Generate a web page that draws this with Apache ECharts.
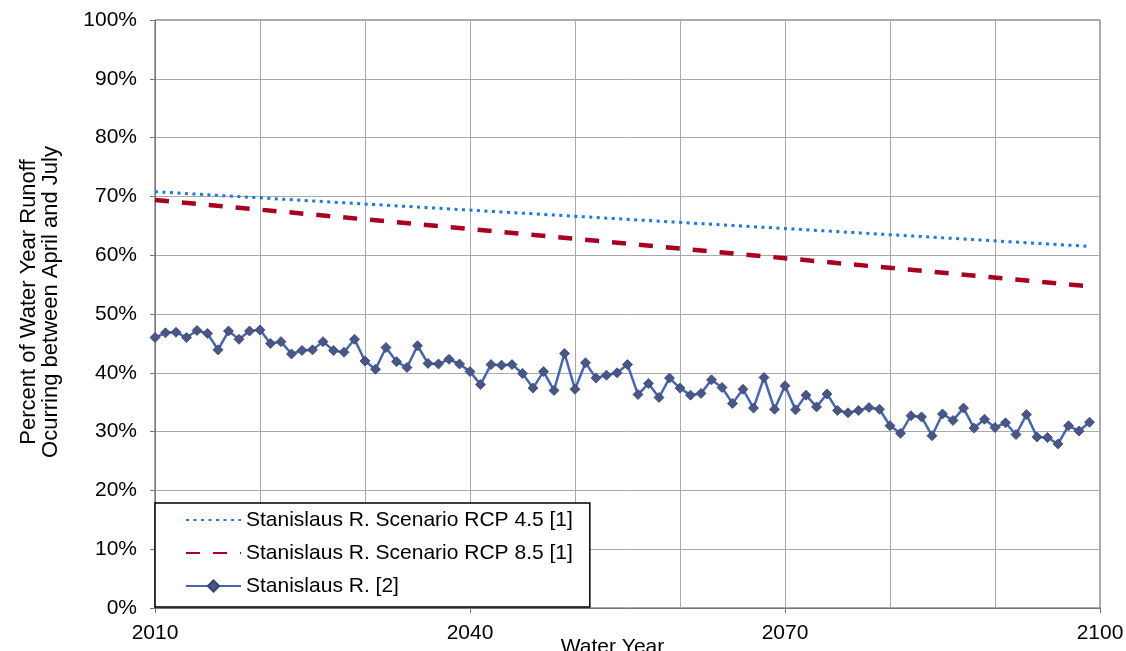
<!DOCTYPE html>
<html>
<head>
<meta charset="utf-8">
<script src="https://cdn.jsdelivr.net/npm/echarts@6/dist/echarts.min.js"></script>
<style>html,body{margin:0;padding:0;background:#fff;}#c{width:1126px;height:651px;}</style>
</head>
<body>
<div id="c"></div>
<script>
var years = [2010,2011,2012,2013,2014,2015,2016,2017,2018,2019,
  2020,2021,2022,2023,2024,2025,2026,2027,2028,2029,
  2030,2031,2032,2033,2034,2035,2036,2037,2038,2039,
  2040,2041,2042,2043,2044,2045,2046,2047,2048,2049,
  2050,2051,2052,2053,2054,2055,2056,2057,2058,2059,
  2060,2061,2062,2063,2064,2065,2066,2067,2068,2069,
  2070,2071,2072,2073,2074,2075,2076,2077,2078,2079,
  2080,2081,2082,2083,2084,2085,2086,2087,2088,2089,
  2090,2091,2092,2093,2094,2095,2096,2097,2098,2099];
var stanislaus = [46.0,46.8,46.9,46.0,47.2,46.7,43.9,47.1,45.7,47.1,
  47.3,45.0,45.3,43.2,43.8,43.9,45.3,43.8,43.5,45.7,
  42.0,40.6,44.3,41.9,40.9,44.6,41.6,41.5,42.3,41.5,
  40.2,38.0,41.4,41.3,41.4,39.9,37.4,40.2,37.0,43.3,
  37.2,41.7,39.1,39.6,40.0,41.4,36.3,38.2,35.8,39.1,
  37.4,36.2,36.5,38.8,37.5,34.8,37.2,34.0,39.2,33.8,
  37.8,33.7,36.2,34.2,36.4,33.6,33.2,33.6,34.1,33.8,
  31.0,29.7,32.7,32.5,29.3,33.0,31.9,34.0,30.6,32.1,
  30.7,31.5,29.5,32.9,29.1,29.0,27.9,31.0,30.1,31.6];
var rcp45Years = [2010, 2099];
var rcp45 = [70.8, 61.5];
var rcp85Years = [2010, 2099];
var rcp85 = [69.4, 54.7];
var seriesNames = ['Stanislaus R. Scenario RCP 4.5 [1]', 'Stanislaus R. Scenario RCP 8.5 [1]', 'Stanislaus R. [2]'];

function pairs(xs, ys) { return xs.map(function (x, i) { return [x, ys[i]]; }); }

var FONT = "'Liberation Sans', Arial, sans-serif";
var chart = echarts.init(document.getElementById('c'));
chart.setOption({
  animation: false,
  backgroundColor: '#fff',
  textStyle: { fontFamily: FONT },
  grid: { left: 155, right: 26, top: 20, bottom: 43, containLabel: false, outerBoundsMode: 'none',
    show: true, borderColor: '#555', borderWidth: 1, backgroundColor: 'transparent' },
  legend: {
    orient: 'vertical', left: 155, top: 503,
    backgroundColor: '#fff', borderColor: '#000', borderWidth: 1.5, borderRadius: 0,
    padding: [5, 17, 9, 30],
    itemWidth: 55, itemHeight: 14, itemGap: 9,
    textStyle: { fontSize: 21, color: '#000', fontFamily: FONT, lineHeight: 24 },
    data: [
      { name: seriesNames[0], itemStyle: { opacity: 0 } },
      { name: seriesNames[1], itemStyle: { opacity: 0 } },
      { name: seriesNames[2] }
    ]
  },
  xAxis: {
    type: 'value', min: 2010, max: 2100, interval: 30,
    name: 'Water Year', nameLocation: 'middle', nameGap: 29, nameMoveOverlap: false,
    nameTextStyle: { fontSize: 21, color: '#000', fontFamily: FONT, padding: [0, 30, 0, 0] },
    axisLine: { show: true, lineStyle: { color: '#777', width: 1 } },
    axisTick: { show: true, length: 5, lineStyle: { color: '#777' } },
    axisLabel: { fontSize: 21, color: '#000', margin: 15, fontFamily: FONT,
      formatter: function (v) { return String(v); } },
    splitLine: { show: true, lineStyle: { color: '#aaa', width: 1 } },
    minorTick: { show: false, splitNumber: 3 },
    minorSplitLine: { show: true, lineStyle: { color: '#aaa', width: 1 } }
  },
  yAxis: {
    type: 'value', min: 0, max: 100, interval: 10,
    name: 'Percent of Water Year Runoff\nOcurring between April and July',
    nameLocation: 'middle', nameGap: 93, nameMoveOverlap: false,
    nameTextStyle: { fontSize: 22, color: '#000', fontFamily: FONT, lineHeight: 22, align: 'center',
      padding: [0, 0, 0, 24] },
    axisLine: { show: true, lineStyle: { color: '#777', width: 1 } },
    axisTick: { show: true, length: 5, lineStyle: { color: '#777' } },
    axisLabel: { fontSize: 21, color: '#000', margin: 18, fontFamily: FONT, formatter: '{value}%' },
    splitLine: { show: true, lineStyle: { color: '#aaa', width: 1 } }
  },
  series: [
    {
      name: seriesNames[0], type: 'line', data: pairs(rcp45Years, rcp45),
      symbol: 'none', color: '#1a78e0',
      lineStyle: { color: '#1a78e0', width: 3, type: [3, 4.5] }, z: 3
    },
    {
      name: seriesNames[1], type: 'line', data: pairs(rcp85Years, rcp85),
      symbol: 'none', color: '#a8001e',
      lineStyle: { color: '#a8001e', width: 4.5, type: [14, 13] }, z: 3
    },
    {
      name: seriesNames[2], type: 'line', data: pairs(years, stanislaus),
      symbol: 'diamond', symbolSize: 10, showSymbol: true, color: '#4a5688',
      lineStyle: { color: '#4566b2', width: 2.5 },
      itemStyle: { color: '#4a5688', borderColor: '#39416a', borderWidth: 0.8 }, z: 4
    }
  ]
});
</script>
</body>
</html>
